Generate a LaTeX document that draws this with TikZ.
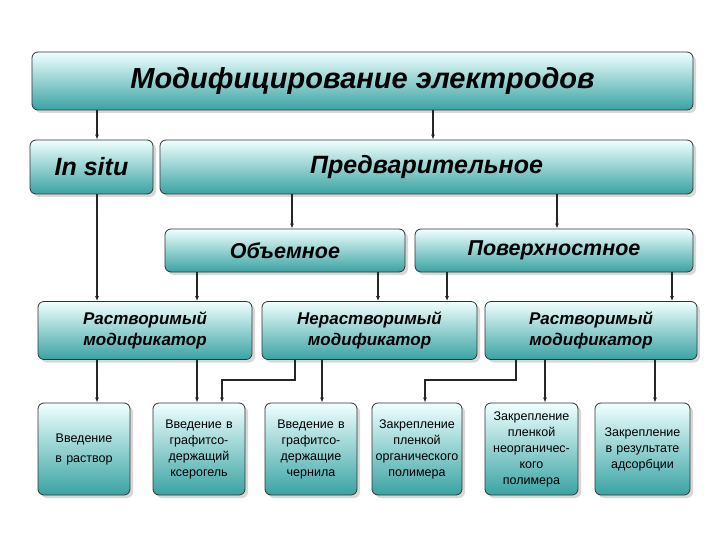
\documentclass[tikz,border=0pt]{standalone}
\usepackage{fontspec}
\setmainfont{Liberation Sans}
\usetikzlibrary{shadows,arrows.meta}
\begin{document}
\begin{tikzpicture}[x=1pt,y=-1pt,
  box/.style={draw=black!80,line width=0.8pt,rounded corners=6pt,top color=cyan!6!white,bottom color=teal!50!cyan!55!gray,
    drop shadow={shadow xshift=3pt,shadow yshift=-3pt,fill=black!30},align=center,inner sep=1pt},
  hd/.style={box,font=\bfseries\itshape},
  lf/.style={box,font=\fontsize{12.5}{16}\selectfont,text width=88pt},
  arr/.style={-{Latex[length=5pt,width=4pt]},line width=1.4pt,black!85}]
\useasboundingbox (0,0) rectangle (720,540);
\node[hd,minimum width=661,minimum height=58,font=\bfseries\itshape\fontsize{29}{32}\selectfont] (top) at (362.5,81) {Модифицирование электродов};
\node[hd,minimum width=123,minimum height=54,font=\bfseries\itshape\fontsize{25}{28}\selectfont] (insitu) at (91.5,167) {In situ};
\node[hd,minimum width=533,minimum height=54,font=\bfseries\itshape\fontsize{25}{28}\selectfont] (pre) at (426.5,167) {Предварительное};
\node[hd,minimum width=240,minimum height=43,font=\bfseries\itshape\fontsize{21.5}{24}\selectfont] (vol) at (285,250.5) {Объемное};
\node[hd,minimum width=278,minimum height=43,font=\bfseries\itshape\fontsize{21.5}{24}\selectfont] (surf) at (554,250.5) {Поверхностное};
\node[hd,minimum width=214,minimum height=58,font=\bfseries\itshape\fontsize{17}{21}\selectfont] (r1) at (145,330.5) {Растворимый\\модификатор};
\node[hd,minimum width=215,minimum height=58,font=\bfseries\itshape\fontsize{17}{21}\selectfont] (r2) at (369.5,330.5) {Нерастворимый\\модификатор};
\node[hd,minimum width=212,minimum height=58,font=\bfseries\itshape\fontsize{17}{21}\selectfont] (r3) at (591,330.5) {Растворимый\\модификатор};
\node[lf,minimum width=92,minimum height=92] (b1) at (84,449) {Введение\\[4pt]в раствор};
\node[lf,minimum width=92,minimum height=92] (b2) at (199,449) {Введение в\\графитсо-\\держащий\\ксерогель};
\node[lf,minimum width=92,minimum height=92] (b3) at (311,449) {Введение в\\графитсо-\\держащие\\чернила};
\node[lf,minimum width=90,minimum height=92] (b4) at (417,449) {Закрепление\\пленкой\\органического\\полимера};
\node[lf,minimum width=93,minimum height=92] (b5) at (531.5,449) {Закрепление\\пленкой\\неорганичес-\\кого\\полимера};
\node[lf,minimum width=95,minimum height=92] (b6) at (642.5,449) {Закрепление\\в результате\\адсорбции\\[16pt]};
\draw[arr] (top.south -| 97,0) -- (insitu.north -| 97,0);
\draw[arr] (top.south -| 433,0) -- (pre.north -| 433,0);
\draw[arr] (pre.south -| 292,0) -- (vol.north -| 292,0);
\draw[arr] (pre.south -| 557,0) -- (surf.north -| 557,0);
\draw[arr] (insitu.south -| 97,0) -- (r1.north -| 97,0);
\draw[arr] (vol.south -| 197,0) -- (r1.north -| 197,0);
\draw[arr] (vol.south -| 378,0) -- (r2.north -| 378,0);
\draw[arr] (surf.south -| 447,0) -- (r2.north -| 447,0);
\draw[arr] (surf.south -| 672,0) -- (r3.north -| 672,0);
\draw[arr] (r1.south -| 97,0) -- (b1.north -| 97,0);
\draw[arr] (r1.south -| 197,0) -- (b2.north -| 197,0);
\draw[arr] (r2.south -| 295,0) |- (222,380) -- (b2.north -| 222,0);
\draw[arr] (r2.south -| 322,0) -- (b3.north -| 322,0);
\draw[arr] (r3.south -| 516,0) |- (425,380) -- (b4.north -| 425,0);
\draw[arr] (r3.south -| 545,0) -- (b5.north -| 545,0);
\draw[arr] (r3.south -| 655,0) -- (b6.north -| 655,0);
\end{tikzpicture}
\end{document}
